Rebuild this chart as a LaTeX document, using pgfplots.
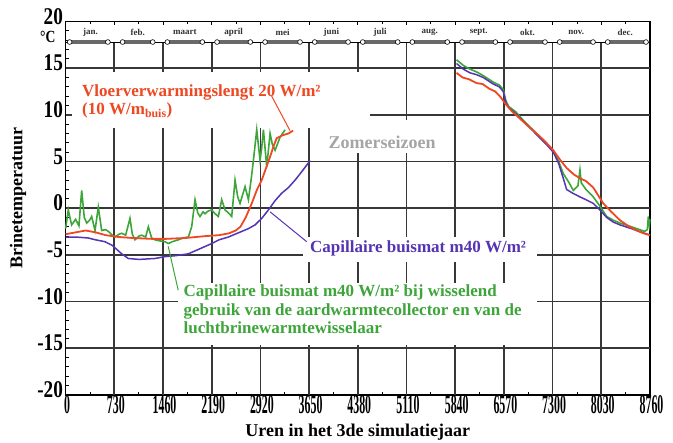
\documentclass[border=0pt]{standalone}
\usepackage{fontspec}
\setmainfont{Liberation Serif}
\newfontfamily\xtickfont[FakeStretch=0.44]{Liberation Serif}
\newfontfamily\ytickfont[FakeStretch=0.8]{Liberation Serif}
\usepackage{pgfplots}
\pgfplotsset{compat=1.18}

\definecolor{redc}{RGB}{238,72,34}
\definecolor{greenc}{RGB}{62,165,58}
\definecolor{bluec}{RGB}{84,52,178}
\definecolor{gridc}{RGB}{55,55,55}
\definecolor{bandc}{RGB}{105,105,105}
\definecolor{grayc}{RGB}{165,165,165}

% one month in the calendar strip: start, end, label centre, label
\newcommand\monthseg[4]{%
  \draw[bandc, line width=3.5bp] (axis cs:#1,17.8) -- (axis cs:#2,17.8);
  \draw[black, line width=0.6bp, fill=white] (axis cs:#1,17.8) circle[radius=2.4bp];
  \draw[black, line width=0.6bp, fill=white] (axis cs:#2,17.8) circle[radius=2.4bp];
  \node[font=\bfseries\fontsize{9bp}{9bp}\selectfont, text=black!80, inner sep=0pt] at (axis cs:#3,18.85) {#4};
}

\begin{document}
\begin{tikzpicture}
\begin{axis}[
  scale only axis, width=584.4bp, height=373.2bp,
  xmin=0, xmax=8760, ymin=-20, ymax=20,
  xtick={0,730,1460,2190,2920,3650,4380,5110,5840,6570,7300,8030,8760},
  ytick={-20,-15,-10,-5,0,5,10,15,20},
  minor x tick num=1, minor y tick num=4,
  tick align=inside, xtick pos=both, xticklabel pos=lower, ytick pos=left,
  axis line style={line width=1.6bp},
  tick style={black, line width=0.8bp},
  major tick length=4bp, minor tick length=3bp,
  /pgf/number format/1000 sep={},
  /pgf/number format/assume math mode=true,
  xticklabel style={font=\xtickfont\bfseries\fontsize{27bp}{27bp}\selectfont, inner sep=0pt, yshift=-0.5bp, xshift=1.5bp},
  yticklabel style={font=\ytickfont\bfseries\fontsize{24bp}{24bp}\selectfont, inner xsep=2.5bp, yshift=5bp},
  clip=false,
]
% grid
\pgfplotsinvokeforeach{730,1460,2190,2920,3650,4380,5110,5840,6570,7300,8030}{
  \draw[gridc, line width=1.7bp] (axis cs:#1,-20) -- (axis cs:#1,17.8);
}
\pgfplotsinvokeforeach{-15,-10,-5,0,5,10,15}{
  \draw[gridc, line width=1.7bp] (axis cs:0,#1) -- (axis cs:8760,#1);
}
% label backgrounds
\fill[white] (axis cs:90,8.6) rectangle (axis cs:4570,14.6);
\fill[white] (axis cs:3815,5.9) rectangle (axis cs:5690,9.4);
\fill[white] (axis cs:3560,-3.1) rectangle (axis cs:7065,-5.8);
\fill[white] (axis cs:1688,-8.0) rectangle (axis cs:7065,-14.7);

% calendar strip
\draw[black, line width=0.8bp] (axis cs:0,17.8) -- (axis cs:8760,17.8);
\monthseg{60}{634}{372}{jan.}
\monthseg{854}{1306}{1080}{feb.}
\monthseg{1526}{2050}{1788}{maart}
\monthseg{2270}{2770}{2520}{april}
\monthseg{2990}{3514}{3252}{mei}
\monthseg{3734}{4234}{3984}{juni}
\monthseg{4454}{4978}{4716}{juli}
\monthseg{5198}{5722}{5460}{aug.}
\monthseg{5942}{6442}{6192}{sept.}
\monthseg{6662}{7186}{6924}{okt.}
\monthseg{7406}{7906}{7656}{nov.}
\monthseg{8126}{8700}{8388}{dec.}

% capillary mat, switching between ground collector and air heat exchanger
\addplot[greenc, line width=1.6bp] coordinates {
(0,-2.2) (40,-0.2) (90,-1.8) (150,-1.2) (200,-1.9) (241,1.9) (280,-1.0) (316,-1.6)
(360,-1.3) (391,-0.9) (441,-2.4) (490,0.1) (541,-2.4) (600,-2.3) (640,-2.5) (700,-2.9)
(740,-3.1) (800,-2.8) (840,-2.7) (900,-2.9) (965,-1.1) (1000,-2.8) (1040,-3.4) (1100,-3.0)
(1140,-2.9) (1200,-3.1) (1240,-2.0) (1290,-3.2) (1340,-3.4) (1400,-3.5) (1490,-3.6) (1540,-3.8)
(1600,-3.6) (1690,-3.4) (1760,-3.2) (1840,-3.1) (1890,-2.0) (1940,0.9) (1980,-0.5) (2015,-0.9)
(2060,-0.4) (2090,-0.6) (2140,-0.3) (2190,-0.2) (2240,-0.6) (2290,-0.9) (2340,0.9) (2390,-0.2)
(2440,-0.5) (2490,-0.9) (2540,3.0) (2580,1.2) (2615,0.5) (2690,2.3) (2740,0.9) (2780,3.0)
(2815,5.1) (2865,8.4) (2915,5.1) (2940,6.5) (2965,8.4) (3015,4.4) (3065,8.0) (3100,6.8)
(3140,6.2) (3215,7.6) (3290,8.4)
};
\addplot[greenc, line width=1.6bp] coordinates {
(5860,15.9) (5960,15.3) (6060,14.9) (6160,14.6) (6260,14.2) (6410,13.5) (6500,13.2) (6560,12.7)
(6600,11.5) (6640,10.9) (6750,10.3) (6860,9.4) (6990,8.5) (7110,7.6) (7210,6.9) (7310,6.2)
(7390,5.0) (7460,3.7) (7540,2.8) (7610,1.9) (7680,2.4) (7710,4.1) (7730,2.7) (7800,2.0)
(7910,1.2) (8010,0.2) (8110,-0.9) (8210,-1.3) (8310,-1.6) (8440,-1.9) (8560,-2.2) (8680,-2.5)
(8720,-2.3) (8735,-0.9) (8750,-1.8) (8760,-1.2)
};
% capillary mat 40 W/m2
\addplot[bluec, line width=1.5bp] coordinates {
(0,-3.1) (150,-3.1) (336,-3.2) (450,-3.4) (590,-3.6) (700,-4.0) (841,-4.9) (940,-5.4)
(1100,-5.5) (1340,-5.4) (1490,-5.2) (1650,-5.1) (1840,-4.9) (2000,-4.4) (2190,-3.8) (2300,-3.4)
(2440,-3.1) (2540,-2.8) (2640,-2.5) (2740,-2.2) (2840,-1.8) (2940,-1.1) (3040,-0.2) (3140,0.8)
(3240,1.6) (3340,2.2) (3440,3.0) (3550,4.0) (3665,5.1)
};
\addplot[bluec, line width=1.5bp] coordinates {
(5860,15.5) (5960,14.9) (6060,14.5) (6160,14.3) (6260,14.0) (6410,13.3) (6500,13.0) (6560,12.5)
(6600,11.3) (6640,10.8) (6750,10.1) (6860,9.3) (6990,8.4) (7110,7.5) (7210,6.8) (7310,6.0)
(7390,4.8) (7460,3.2) (7510,2.0) (7600,1.6) (7710,1.2) (7800,0.9) (7910,0.5) (8010,-0.2)
(8110,-1.0) (8210,-1.5) (8310,-1.8) (8440,-2.1) (8560,-2.4) (8680,-2.7) (8760,-2.9)
};
% floor heating 20 W/m2
\addplot[redc, line width=1.8bp] coordinates {
(0,-2.8) (150,-2.6) (300,-2.4) (450,-2.6) (600,-2.9) (800,-3.1) (1000,-3.2) (1300,-3.3)
(1500,-3.3) (1800,-3.2) (2100,-3.0) (2300,-2.9) (2450,-2.7) (2550,-2.4) (2620,-2.0) (2700,-1.0)
(2790,0.5) (2870,2.0) (2940,3.0) (3000,4.2) (3065,5.5) (3120,6.7) (3165,7.5) (3250,7.8)
(3340,8.0) (3410,8.3)
};
\addplot[redc, line width=1.8bp] coordinates {
(5860,14.5) (5950,14.0) (6050,13.8) (6160,13.4) (6250,13.3) (6350,12.8) (6440,12.5) (6520,11.9)
(6590,11.2) (6700,10.3) (6810,9.6) (6930,8.8) (7060,8.0) (7180,7.2) (7310,6.2) (7420,5.1)
(7510,4.3) (7620,3.6) (7710,3.2) (7800,2.9) (7910,2.2) (7980,1.4) (8060,0.5) (8180,-0.4)
(8310,-1.3) (8430,-1.9) (8560,-2.4) (8660,-2.7) (8760,-2.9)
};

% annotations
\node[anchor=north west, text=redc, align=left, inner sep=0pt,
  font=\bfseries\fontsize{17bp}{18bp}\selectfont] at (axis cs:246,13.2)
  {Vloerverwarmingslengt 20 W/m²\\(10 W/m\textsubscript{buis})};
\draw[redc, line width=1bp] (axis cs:3089,12.0) -- (axis cs:3364,8.3);
\node[text=grayc, inner sep=0pt, font=\bfseries\fontsize{18bp}{18bp}\selectfont]
  at (axis cs:4743,7.1) {Zomerseizoen};
\node[anchor=west, text=bluec, inner sep=0pt, font=\bfseries\fontsize{17bp}{18bp}\selectfont]
  at (axis cs:3663,-4.3) {Capillaire buismat m40 W/m²};
\draw[bluec, line width=1bp] (axis cs:3065,-0.4) -- (axis cs:3614,-3.6);
\node[anchor=north west, text=greenc, align=left, inner sep=0pt,
  font=\bfseries\fontsize{17bp}{18.5bp}\selectfont] at (axis cs:1766,-8.2)
  {Capillaire buismat m40 W/m² bij wisselend\\gebruik van de aardwarmtecollector en van de\\luchtbrinewarmtewisselaar};
\draw[greenc, line width=1bp] (axis cs:1538,-4.1) -- (axis cs:1688,-8.8);

\node[anchor=east, inner sep=0pt, font=\ytickfont\bfseries\fontsize{17bp}{17bp}\selectfont]
  at (axis cs:-150,18.3) {°C};
\node[inner sep=0pt, font=\bfseries\fontsize{18bp}{18bp}\selectfont]
  at ([yshift=-37.5bp]rel axis cs:0.5,0) {Uren in het 3de simulatiejaar};
\node[inner sep=0pt, rotate=90, font=\bfseries\fontsize{18bp}{18bp}\selectfont]
  at ([xshift=-47.6bp]rel axis cs:0,0.526) {Brinetemperatuur};

\coordinate (bl) at (rel axis cs:0,0);
\coordinate (tr) at (rel axis cs:1,1);
\end{axis}
\pgfresetboundingbox
\path[use as bounding box] ([shift={(-65.6bp,-47.3bp)}]bl) rectangle ([shift={(23bp,21.5bp)}]tr);
\end{tikzpicture}
\end{document}
